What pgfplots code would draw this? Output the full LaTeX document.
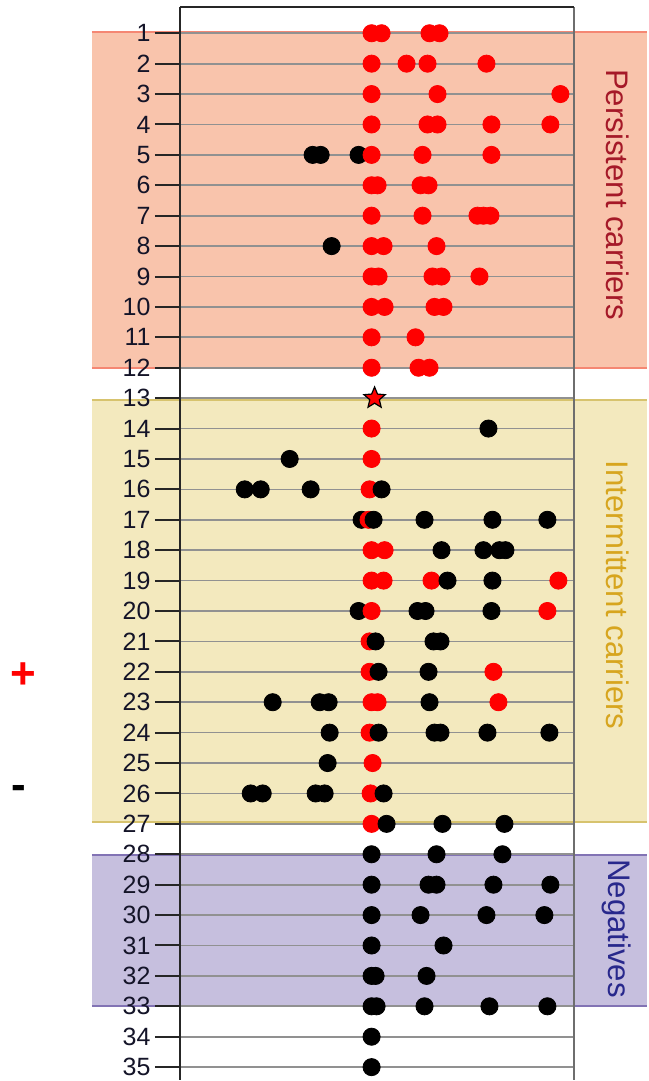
\documentclass[border=0pt]{standalone}
\usepackage{fontspec}
\setmainfont{Liberation Sans}
\usepackage{pgfplots}
\pgfplotsset{compat=1.18}
\definecolor{salmonfill}{RGB}{249,196,172}
\definecolor{salmonedge}{RGB}{245,135,115}
\definecolor{khakifill}{RGB}{243,233,190}
\definecolor{khakiedge}{RGB}{215,195,110}
\definecolor{lavfill}{RGB}{198,191,222}
\definecolor{lavedge}{RGB}{130,115,180}
\definecolor{perstxt}{RGB}{165,25,40}
\definecolor{intertxt}{RGB}{215,165,30}
\definecolor{negtxt}{RGB}{40,40,140}
\definecolor{gridgray}{RGB}{145,145,145}
\definecolor{rightgray}{RGB}{110,110,110}
\pgfdeclareplotmark{fstar}{%
 \pgfpathmoveto{\pgfpointpolar{90}{\pgfplotmarksize}}%
 \pgfpathlineto{\pgfpointpolar{126}{0.45\pgfplotmarksize}}%
 \pgfpathlineto{\pgfpointpolar{162}{\pgfplotmarksize}}%
 \pgfpathlineto{\pgfpointpolar{198}{0.45\pgfplotmarksize}}%
 \pgfpathlineto{\pgfpointpolar{234}{\pgfplotmarksize}}%
 \pgfpathlineto{\pgfpointpolar{270}{0.45\pgfplotmarksize}}%
 \pgfpathlineto{\pgfpointpolar{306}{\pgfplotmarksize}}%
 \pgfpathlineto{\pgfpointpolar{342}{0.45\pgfplotmarksize}}%
 \pgfpathlineto{\pgfpointpolar{18}{\pgfplotmarksize}}%
 \pgfpathlineto{\pgfpointpolar{54}{0.45\pgfplotmarksize}}%
 \pgfpathclose
 \pgfusepathqfillstroke}
\begin{document}
\begin{tikzpicture}
\begin{axis}[
  set layers,
  scale only axis,
  width=197.5pt, height=536.9pt,
  xmin=180, xmax=575,
  ymin=0.146, ymax=35.42,
  y dir=reverse,
  clip=false,
  hide x axis,
  ytick={1,...,35},
  ytick pos=left,
  tick align=outside,
  major tick length=12.5pt,
  y tick style={line width=1pt, color=black!85},
  ymajorgrids,
  major grid style={gridgray, line width=0.85pt},
  axis line style={line width=1.1pt, black!85},
  yticklabel style={font=\fontsize{12.5}{14}\selectfont, text={rgb,255:red,20;green,20;blue,40}, /pgf/number format/assume math mode=true, inner sep=2pt},
]
\begin{pgfonlayer}{axis background}
\fill[salmonfill] (axis cs:92,0.95) rectangle (axis cs:648,12.0);
\draw[salmonedge, line width=1pt] (axis cs:92,0.95) -- (axis cs:648,0.95);
\draw[salmonedge, line width=1pt] (axis cs:92,12.0) -- (axis cs:648,12.0);
\fill[khakifill] (axis cs:92,13.05) rectangle (axis cs:648,26.95);
\draw[khakiedge, line width=1pt] (axis cs:92,13.05) -- (axis cs:648,13.05);
\draw[khakiedge, line width=1pt] (axis cs:92,26.95) -- (axis cs:648,26.95);
\fill[lavfill] (axis cs:92,28.03) rectangle (axis cs:648,33.0);
\draw[lavedge, line width=1pt] (axis cs:92,28.03) -- (axis cs:648,28.03);
\draw[lavedge, line width=1pt] (axis cs:92,33.0) -- (axis cs:648,33.0);
\end{pgfonlayer}
\path (axis cs:0,-0.094) rectangle (axis cs:648,35.42);
\draw[rightgray, line width=1.1pt] (axis cs:575,0.146) -- (axis cs:575,35.42);
\draw[black!85, line width=1.1pt] (axis cs:180,0.146) -- (axis cs:575,0.146);

% black dots behind red
\addplot[only marks, mark=*, mark size=4.3pt, mark options={fill=black, draw=black}] table {
x y
313 5
321 5
359 5
332 8
290 15
245 16
261 16
311 16
362 17
359 20
273 23
320 23
329 23
330 24
328 25
251 26
263 26
316 26
325 26
};
% red dots
\addplot[only marks, mark=*, mark size=4.3pt, mark options={fill=red, draw=red}] table {
x y
372 1
382 1
430 1
440 1
372 2
407 2
428 2
487 2
372 3
438 3
561 3
372 4
428 4
438 4
492 4
551 4
372 5
423 5
492 5
372 6
378 6
421 6
429 6
372 7
423 7
478 7
484 7
491 7
372 8
384 8
437 8
372 9
379 9
433 9
442 9
480 9
372 10
385 10
435 10
444 10
372 11
416 11
372 12
419 12
430 12
372 14
372 15
370 16
369 17
372 18
385 18
372 19
384 19
432 19
559 19
372 20
548 20
370 21
370 22
494 22
372 23
378 23
499 23
370 24
373 25
371 26
372 27
};
% black dots in front
\addplot[only marks, mark=*, mark size=4.3pt, mark options={fill=black, draw=black}] table {
x y
489 14
382 16
374 17
425 17
493 17
548 17
442 18
484 18
500 18
506 18
448 19
493 19
418 20
426 20
492 20
376 21
434 21
441 21
379 22
429 22
430 23
379 24
435 24
441 24
488 24
550 24
384 26
387 27
443 27
505 27
372 28
437 28
503 28
372 29
429 29
437 29
494 29
551 29
372 30
421 30
487 30
545 30
372 31
444 31
372 32
376 32
427 32
372 33
377 33
425 33
490 33
548 33
372 34
372 35
};
% star
\addplot[only marks, mark=fstar, mark size=5.6pt, mark options={fill=red, draw=black, line width=0.6pt}] table {
x y
375 13
};
\node[rotate=-90, text=perstxt, font=\fontsize{15.6}{18}\selectfont] at (axis cs:618,6.31) {Persistent carriers};
\node[rotate=-90, text=intertxt, font=\fontsize{15.6}{18}\selectfont] at (axis cs:618,19.48) {Intermittent carriers};
\node[rotate=-90, text=negtxt, font=\fontsize{15.6}{18}\selectfont] at (axis cs:617,30.44) {Negatives};
\node[text=red, font=\fontsize{22}{24}\selectfont\bfseries] at (axis cs:23,22.13) {+};
\node[text=black, font=\fontsize{22}{24}\selectfont\bfseries] at (axis cs:19,25.97) {-};
\end{axis}
\end{tikzpicture}
\end{document}
